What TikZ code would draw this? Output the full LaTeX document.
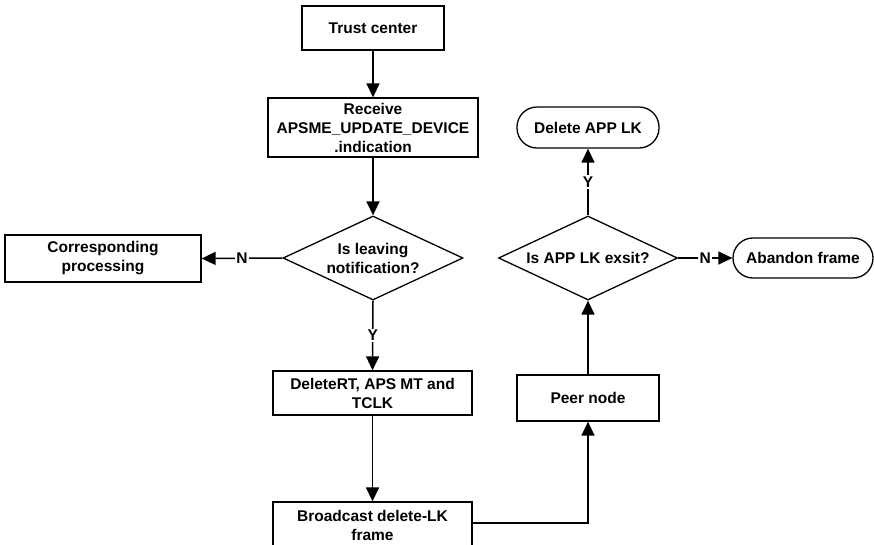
\documentclass[tikz,border=0pt]{standalone}
\usepackage{fontspec}
\setmainfont{Liberation Sans}
\usetikzlibrary{arrows.meta,shapes.geometric}
\begin{document}
\begin{tikzpicture}[x=1pt,y=-1pt,
  every node/.style={font=\fontsize{15.5}{19}\selectfont\bfseries, align=center},
  box/.style={draw, line width=1.3pt, rectangle, inner sep=1pt},
  term/.style={draw, line width=1.3pt, rectangle, rounded corners=20pt, inner sep=1pt},
  dec/.style={draw, line width=1.3pt, diamond, aspect=2.14, inner sep=0pt, minimum width=180pt, minimum height=84pt},
  lbl/.style={fill=white, inner sep=1.5pt},
  conn/.style={line width=1.5pt, -{Triangle[length=14pt,width=13pt]}}
]
\useasboundingbox (0,0) rectangle (874,545);
\node[box, minimum width=142pt, minimum height=44pt] (trust) at (373,28) {Trust center};
\node[box, minimum width=210pt, minimum height=59pt] (recv) at (373,127.5) {Receive\\APSME\_UPDATE\_DEVICE\\.indication};
\node[dec] (dec1) at (373,258) {Is leaving\\notification?};
\node[box, minimum width=196pt, minimum height=47pt] (corr) at (103,258.5) {Corresponding\\processing};
\node[box, minimum width=199pt, minimum height=44pt] (delrt) at (372.5,393) {DeleteRT, APS MT and\\TCLK};
\node[box, minimum width=199pt, minimum height=46pt] (bcast) at (372.5,525) {Broadcast delete-LK\\frame};
\node[box, minimum width=142pt, minimum height=46pt] (peer) at (588,398) {Peer node};
\node[dec, minimum width=179pt] (dec2) at (588,258) {Is APP LK exsit?};
\node[term, minimum width=142pt, minimum height=41pt] (delapp) at (588,127.5) {Delete APP LK};
\node[term, minimum width=140pt, minimum height=40pt] (aband) at (803,258) {Abandon frame};

\draw[conn] (trust) -- (recv);
\draw[conn] (recv) -- (dec1);
\draw[conn] (dec1.west) -- node[lbl] {N} (corr.east);
\draw[conn] (dec1.south) -- node[lbl] {Y} (delrt.north);
\draw[conn] (delrt) -- (bcast);
\draw[conn] (bcast.east |- 0,523) -| (peer.south);
\draw[conn] (peer) -- (dec2);
\draw[conn] (dec2.north) -- node[lbl] {Y} (delapp.south);
\draw[conn] (dec2.east) -- node[lbl] {N} (aband.west);
\end{tikzpicture}
\end{document}
